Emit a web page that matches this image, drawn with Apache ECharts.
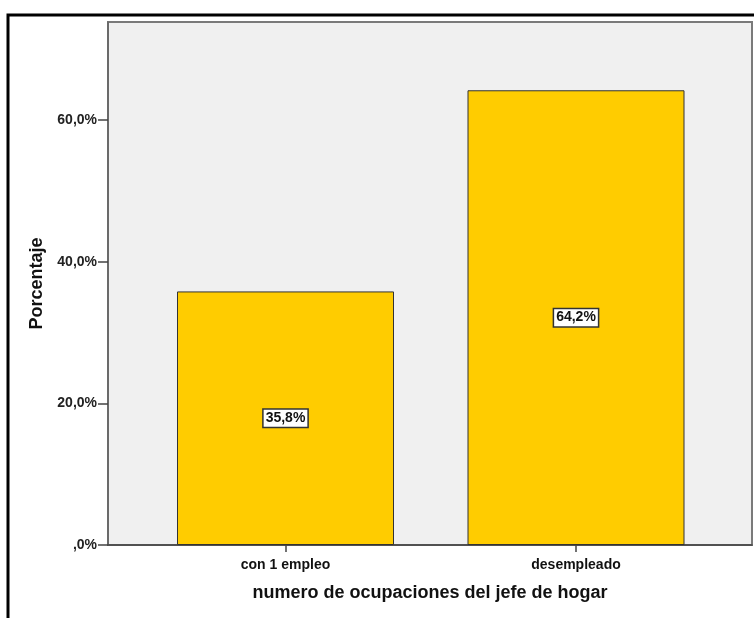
<!DOCTYPE html>
<html><head><meta charset="utf-8">
<script src="https://cdn.jsdelivr.net/npm/echarts@6/dist/echarts.min.js"></script>
<style>html,body{margin:0;padding:0;background:#fff}#c{width:754px;height:618px}</style>
</head><body><div id="c"></div>
<script>
const categories = ['con 1 empleo', 'desempleado'];
const values = [35.8, 64.2];
const yTicks = [0, 20, 40, 60];
const yMax = 73.84;
const xTitle = 'numero de ocupaciones del jefe de hogar';
const yTitle = 'Porcentaje';

const fmtPct = v => (v === 0 ? ',0%' : v.toFixed(1).replace('.', ',') + '%');
const font = '"Liberation Sans", Arial, sans-serif';

const chart = echarts.init(document.getElementById('c'), null, {renderer: 'canvas'});
chart.setOption({
  animation: false,
  grid: [
    {left: 108, top: 22, width: 644, height: 523, show: true, backgroundColor: '#f0f0f0', borderColor: '#7a7a7a', borderWidth: 2, containLabel: false},
    {left: 140.25, top: 22, width: 581, height: 523, show: false}
  ],
  xAxis: [
    {gridIndex: 0, type: 'value', min: 0, max: 1, axisLabel: {show: false}, axisTick: {show: false}, splitLine: {show: false},
     axisLine: {show: true, lineStyle: {color: '#444', width: 1.5}},
     name: xTitle, nameLocation: 'middle', nameGap: 39,
     nameTextStyle: {fontFamily: font, fontWeight: 'bold', fontSize: 18, color: '#111'}},
    {gridIndex: 1, type: 'category', data: categories, axisLine: {show: false},
     axisTick: {show: true, alignWithLabel: true, length: 7, lineStyle: {color: '#444', width: 1.5}},
     axisLabel: {fontFamily: font, fontWeight: 'bold', fontSize: 14, color: '#111', margin: 13}}
  ],
  yAxis: [
    {gridIndex: 0, type: 'value', min: 0, max: yMax, interval: 20, splitLine: {show: false},
     axisLine: {show: true, lineStyle: {color: '#666', width: 1.5}},
     name: yTitle, nameLocation: 'middle', nameGap: 60,
     nameTextStyle: {fontFamily: font, fontWeight: 'bold', fontSize: 18, color: '#111'},
     axisTick: {show: true, length: 10, customValues: yTicks, lineStyle: {color: '#444', width: 1.5}},
     axisLabel: {customValues: yTicks, formatter: v => fmtPct(v), fontFamily: font, fontWeight: 'bold', fontSize: 14, color: '#222', margin: 11, padding: [3, 0, 0, 0]}},
    {gridIndex: 1, type: 'value', min: 0, max: yMax, show: false}
  ],
  series: [{
    type: 'bar', xAxisIndex: 1, yAxisIndex: 1, data: values, barWidth: 217,
    itemStyle: {color: '#ffcc00', borderColor: '#333', borderWidth: 1},
    label: {show: true, position: 'inside', formatter: p => fmtPct(p.value),
      fontFamily: font, fontWeight: 'bold', fontSize: 14, color: '#111',
      backgroundColor: '#fff', borderColor: '#333', borderWidth: 1.5, padding: [2, 2, 1, 2]}
  }],
  graphic: [
    {type: 'rect', shape: {x: 8, y: 15, width: 800, height: 700}, style: {fill: 'none', stroke: '#000', lineWidth: 3}, z: 100}
  ]
});
</script></body></html>
